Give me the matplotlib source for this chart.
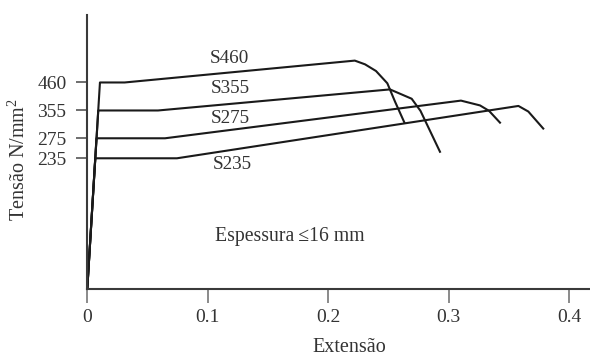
import numpy as np
import matplotlib
matplotlib.use("Agg")
import matplotlib.pyplot as plt

# strain / stress curves (stress in N/mm2)
grades = ["S460", "S355", "S275", "S235"]

strain_s460 = [0.0, 0.0105, 0.031, 0.222, 0.2305, 0.2396, 0.249, 0.2554, 0.2632]
stress_s460 = [0, 460, 460, 542, 528, 503, 457, 388, 320]

strain_s355 = [0.0, 0.0091, 0.0587, 0.2512, 0.2692, 0.2765, 0.2927]
stress_s355 = [0, 355, 355, 434, 399, 354, 248]

strain_s275 = [0.0, 0.0076, 0.0645, 0.3101, 0.3259, 0.3334, 0.3425]
stress_s275 = [0, 275, 275, 392, 374, 354, 320]

strain_s235 = [0.0, 0.0066, 0.0744, 0.3578, 0.366, 0.3784]
stress_s235 = [0, 235, 235, 372, 352, 303]

ytick_vals = [235, 275, 355, 460]
xtick_vals = [0, 0.1, 0.2, 0.3, 0.4]
xtick_labels = ["0", "0.1", "0.2", "0.3", "0.4"]

# the stress axis in the original is not drawn to scale -> piecewise mapping
scale_stress = np.array([0, 235, 275, 355, 460, 1000])
scale_pos = np.array([0, 130.2, 150.2, 178.0, 206.0, 350.0])


def forward(s):
    return np.interp(s, scale_stress, scale_pos)


def inverse(p):
    return np.interp(p, scale_pos, scale_stress)


plt.rcParams['font.family'] = ['Liberation Serif', 'DejaVu Serif']
plt.rcParams['mathtext.fontset'] = 'custom'
plt.rcParams['mathtext.rm'] = 'Liberation Serif'

txt_color = '#333333'
line_color = '#1a1a1a'

fig = plt.figure(figsize=(5.9, 3.56), dpi=100)
ax = fig.add_axes([87.3 / 590, 1 - 288.5 / 356, (590 - 87.3) / 590, 273.5 / 356])

curves = [(strain_s460, stress_s460), (strain_s355, stress_s355),
          (strain_s275, stress_s275), (strain_s235, stress_s235)]
for x, y in curves:
    ax.plot(x, y, color=line_color, linewidth=1.5, solid_joinstyle='round')

ax.set_yscale('function', functions=(forward, inverse))
ax.set_xlim(0, 0.4172)
ax.set_ylim(0, 713)

# curve labels
label_pos = [(0.1176, 550), (0.1184, 436), (0.1184, 332), (0.120, 223)]
for name, (lx, ly) in zip(grades, label_pos):
    ax.text(lx, ly, name, ha='center', va='center', fontsize=13.8, color=txt_color)

ax.text(0.254, 0.189, 'Espessura\u2009\u226416 mm', transform=ax.transAxes,
        ha='left', va='center', fontsize=14.2, color=txt_color)

ax.set_yticks(ytick_vals)
ax.set_yticklabels([str(v) for v in ytick_vals])
ax.set_xticks(xtick_vals)
ax.set_xticklabels(xtick_labels)

ax.tick_params(axis='y', length=8, width=1.2, color='#555555', pad=7,
               labelsize=14, labelcolor=txt_color)
ax.tick_params(axis='x', length=10, width=1.2, color='#777777', pad=5,
               labelsize=14, labelcolor=txt_color)

ax.set_xlabel('Extensão', fontsize=14.5, color=txt_color, va='center')
ax.xaxis.set_label_coords(0.5216, -0.214)
ax.set_ylabel(r'Tensão N/mm$^{\mathrm{2}}$', fontsize=14.5, color=txt_color, va='center')
ax.yaxis.set_label_coords(-0.136, 0.473)

for side in ['top', 'right']:
    ax.spines[side].set_visible(False)
for side in ['left', 'bottom']:
    ax.spines[side].set_color('#3a3a3a')
    ax.spines[side].set_linewidth(1.5)

fig.savefig('out.png', dpi=100)
